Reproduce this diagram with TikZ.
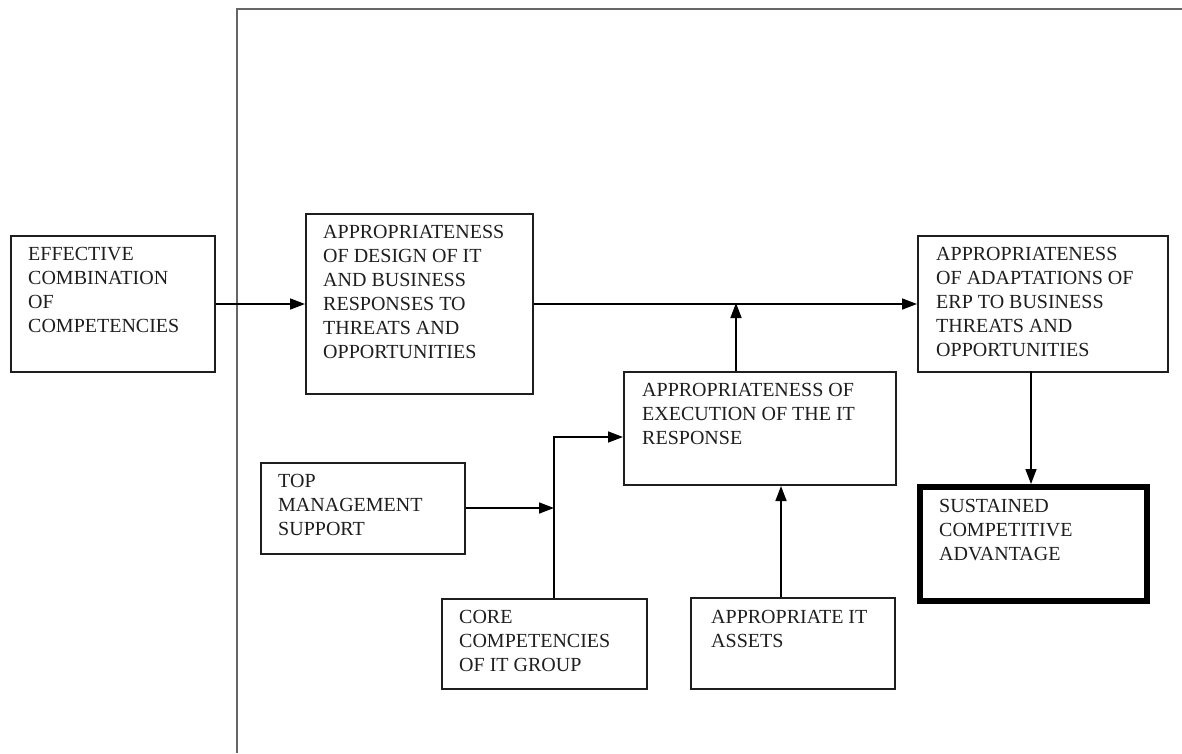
\documentclass[tikz,border=0pt]{standalone}
\usepackage{fontspec}
\setmainfont{Liberation Serif}
\usetikzlibrary{arrows.meta}
\definecolor{ink}{HTML}{1E1E1E}
\tikzset{
  box/.style={draw=ink, line width=2pt, inner sep=0pt, anchor=north west},
  thickbox/.style={draw=black, line width=6pt, inner sep=0pt, anchor=north west},
  txt/.style={inner sep=0pt, anchor=north west, align=left, text=ink,
    font=\fontsize{20}{24}\selectfont},
  conn/.style={draw=black, line width=1.6pt, -{Triangle[length=15pt,width=11pt]}},
  frame/.style={draw=black!60, line width=2.5pt}
}
\begin{document}
\begin{tikzpicture}[x=1pt,y=-1pt]
\useasboundingbox (0,0) rectangle (1182,753);
% frame
\coordinate (fb) at (237,753);
\coordinate (fc) at (237,9);
\coordinate (fr) at (1182,9);
\draw[frame] (fb) -- (fc) -- (fr);
% boxes
\node[box, minimum width=204pt, minimum height=136pt] (eff) at (10,235) {};
\node[box, minimum width=227pt, minimum height=180pt] (design) at (305,213) {};
\node[box, minimum width=250pt, minimum height=136pt] (adapt) at (917,235) {};
\node[box, minimum width=272pt, minimum height=113pt] (exec) at (623,371) {};
\node[thickbox, minimum width=227pt, minimum height=114pt] (sca) at (917,484) {};
\node[box, minimum width=204pt, minimum height=91pt] (top) at (260,462) {};
\node[box, minimum width=205pt, minimum height=90pt] (core) at (441,598) {};
\node[box, minimum width=204pt, minimum height=91pt] (assets) at (690,597) {};
% texts
\node[txt] (effT) at ([shift={(18,12)}]eff.north west) {EFFECTIVE\\COMBINATION\\OF\\COMPETENCIES};
\node[txt] (designT) at ([shift={(18,12)}]design.north west) {APPROPRIATENESS\\OF DESIGN OF IT\\AND BUSINESS\\RESPONSES TO\\THREATS AND\\OPPORTUNITIES};
\node[txt] (adaptT) at ([shift={(19,12)}]adapt.north west) {APPROPRIATENESS\\OF ADAPTATIONS OF\\ERP TO BUSINESS\\THREATS AND\\OPPORTUNITIES};
\node[txt] (execT) at ([shift={(19,12)}]exec.north west) {APPROPRIATENESS OF\\EXECUTION OF THE IT\\RESPONSE};
\node[txt] (scaT) at ([shift={(22,15)}]sca.north west) {SUSTAINED\\COMPETITIVE\\ADVANTAGE};
\node[txt] (topT) at ([shift={(18,12)}]top.north west) {TOP\\MANAGEMENT\\SUPPORT};
\node[txt] (coreT) at ([shift={(18,12)}]core.north west) {CORE\\COMPETENCIES\\OF IT GROUP};
\node[txt] (assetsT) at ([shift={(21,13)}]assets.north west) {APPROPRIATE IT\\ASSETS};
% junction coordinates
\coordinate (j1) at (736,303);
\coordinate (j2) at (554,508);
\coordinate (j3) at (554,437);
\coordinate (a4) at (781,597);
\coordinate (a5) at (1031,371);
% connectors
\draw[conn] (eff.east) -- (design.west |- eff.east);
\draw[conn] (design.east) -- (adapt.west |- design.east);
\draw[conn] (j1 |- exec.north) -- (j1);
\draw[conn] (top.east |- j2) -- (j2);
\draw[conn] (j2 |- core.north) -- (j3) -- (exec.west |- j3);
\draw[conn] (a4) -- (a4 |- exec.south);
\draw[conn] (a5) -- (a5 |- sca.north);
\end{tikzpicture}
\end{document}
